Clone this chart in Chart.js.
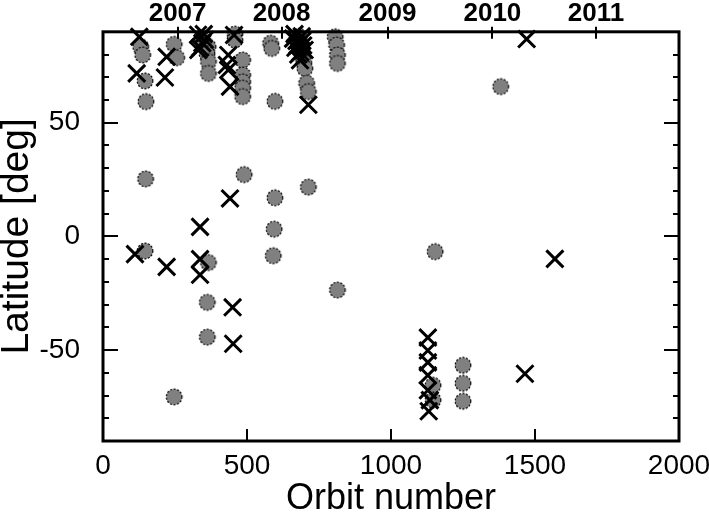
<!DOCTYPE html>
<html><head><meta charset="utf-8">
<script src="https://cdn.jsdelivr.net/npm/chart.js@4/dist/chart.umd.min.js"></script>
<style>html,body{margin:0;padding:0;background:#fff}#wrap{width:709px;height:518px;position:relative}</style>
</head><body><div id="wrap"><canvas id="c" width="709" height="518"></canvas></div>
<script>
// ---- data ----
const circleOrbits = [131,138,146,149,148,146, 247,256,247, 347,365,361,366,366,366,362,362,
  458,458,485,485,485,485,485,490, 582,586,597,597,594,591,
  680,685,690,693,697,701,707,713,713, 806,811,814,814,814,
  1153,1146,1146,1250,1250,1250, 1381];
const circleLats = [83.4,79.8,68.4,59.3,25.3,-6.4, 84.5,78.6,-70.6, 86.5,83.4,80.3,76.9,71.7,-11.5,-29,-44.3,
  89,86.4,77.6,71,68,65.2,61.5,27.2, 85,82.7,59.4,17,3.2,-8.5,
  88,85,82,79,76.5,73.9,67.4,63.7,21.7, 87.8,84.2,79.8,76.1,-23.6,
  -6.7,-65.5,-72,-56.7,-64.6,-72.5, 65.9];
const crossOrbits = [126,117,111, 221,215,221, 330,354,337,331,345,350,337,337,337,
  435,430,435,441,455,441,450,452, 665,672,668,678,684,690,695,660,675,685,692,700,713,
  1128,1128,1128,1128,1128,1135,1131, 1471,1569,1465];
const crossLats = [87.8,71.7,-7.8, 79,69.9,-13.4, 88.7,86.5,83,82,85,89,4.2,-10,-16.9,
  79.8,75.4,73.2,65.9,88.6,16.7,-31.2,-47.2, 89,86,83,80,77.5,88,84,87,84,81,86,82,57.9,
  -44.5,-50.2,-55.4,-61.1,-67.7,-72,-76.9, 86.8,-9.9,-60.4];
const xTickValues = [0,500,1000,1500,2000];
const yLabelValues = [-50,0,50];
const yearLabels = ['2007','2008','2009','2010','2011'];
const yearOrbits = [259,620,988,1352,1712];

const FONT = "'Liberation Sans', Arial, sans-serif";

// circle marker with dotted outline
const mk = document.createElement('canvas');
mk.width = 20; mk.height = 20;
(function(){
  const g = mk.getContext('2d');
  g.beginPath(); g.arc(10,10,7.8,0,Math.PI*2);
  g.fillStyle = '#808080'; g.fill();
  g.setLineDash([2,1.6]); g.lineWidth = 1.2; g.strokeStyle = '#000'; g.stroke();
})();

const framePlugin = {
  id: 'frame',
  afterDraw(chart){
    const {ctx, chartArea:a, scales} = chart;
    const x = scales.x, y = scales.y, t = scales.xTop;
    ctx.save();
    ctx.strokeStyle = '#000'; ctx.lineCap = 'butt'; ctx.lineWidth = 2;
    ctx.beginPath();
    y.ticks.forEach(tk => {
      if (tk.value === -90 || tk.value === 90) return;
      const py = Math.round(y.getPixelForValue(tk.value));
      const len = (yLabelValues.includes(tk.value)) ? 15 : 6;
      ctx.moveTo(a.left, py); ctx.lineTo(a.left + len, py);
      ctx.moveTo(a.right, py); ctx.lineTo(a.right - len, py);
    });
    x.ticks.forEach(tk => {
      if (tk.value <= 0 || tk.value >= 2000) return;
      const px = Math.round(x.getPixelForValue(tk.value));
      ctx.moveTo(px, a.bottom); ctx.lineTo(px, a.bottom - 12);
    });
    t.ticks.forEach(tk => {
      const px = Math.round(t.getPixelForValue(tk.value));
      ctx.moveTo(px, a.top - 5); ctx.lineTo(px, a.top + 7);
    });
    ctx.stroke();
    ctx.lineWidth = 3;
    ctx.strokeRect(a.left, a.top, a.right - a.left, a.bottom - a.top);
    ctx.restore();
  }
};

new Chart(document.getElementById('c'), {
  type: 'scatter',
  data: {
    datasets: [
      {
        label: 'cross',
        data: crossOrbits.map((o,i)=>({x:o, y:crossLats[i]})),
        pointStyle: 'crossRot', radius: 12, borderWidth: 3,
        borderColor: '#000', backgroundColor: '#000', clip: false
      },
      {
        label: 'circle',
        data: circleOrbits.map((o,i)=>({x:o, y:circleLats[i]})),
        pointStyle: mk, radius: 8, clip: false
      }
    ]
  },
  options: {
    responsive: false, animation: false, devicePixelRatio: 1,
    layout: { padding: 0 },
    plugins: { legend: { display: false }, tooltip: { enabled: false } },
    scales: {
      x: {
        type: 'linear', position: 'bottom', min: 0, max: 2000,
        afterBuildTicks: s => { s.ticks = xTickValues.map(v => ({value: v})); },
        afterFit: s => { s.height = 77; s.paddingRight = 30; s.paddingLeft = 0; },
        grid: { display: false }, border: { display: false },
        ticks: { color: '#000', font: { family: FONT, size: 28 }, padding: 0, maxRotation: 0, autoSkip: false,
          callback: v => String(v) },
        title: { display: true, text: 'Orbit number', color: '#000', font: { family: FONT, size: 36 }, padding: { top: 0, bottom: -3 } }
      },
      xTop: {
        type: 'linear', position: 'top', min: 0, max: 2000, display: true,
        afterBuildTicks: s => { s.ticks = yearOrbits.map(v => ({value: v})); },
        afterFit: s => { s.height = 30; s.paddingRight = 30; s.paddingLeft = 0; },
        grid: { display: false }, border: { display: false },
        ticks: { color: '#000', font: { family: FONT, size: 26, weight: 'bold' }, padding: -6, maxRotation: 0, autoSkip: false,
          callback: (v, i) => yearLabels[i] }
      },
      y: {
        type: 'linear', position: 'left', min: -90, max: 90,
        afterFit: s => { s.width = 103; },
        grid: { display: false }, border: { display: false },
        ticks: { stepSize: 10, autoSkip: false, color: '#000', font: { family: FONT, size: 28 }, padding: 15,
          callback: v => yLabelValues.includes(v) ? String(v) : '' },
        title: { display: true, text: 'Latitude [deg]', color: '#000', font: { family: FONT, size: 39 }, padding: { top: -6, bottom: 0 } }
      }
    }
  },
  plugins: [framePlugin]
});
</script></body></html>
